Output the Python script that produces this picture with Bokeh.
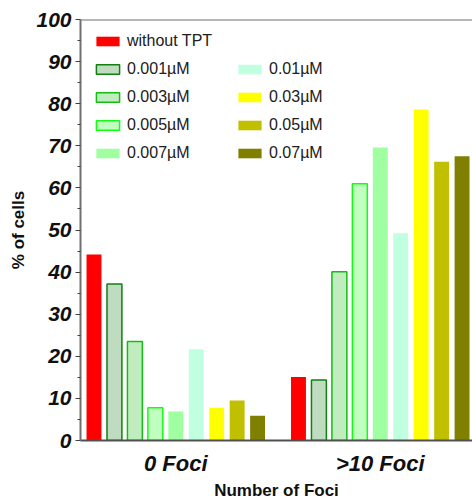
from bokeh.plotting import figure
from bokeh.models import ColumnDataSource, Legend, LegendItem, Span, FixedTicker
from bokeh.embed import file_html
from bokeh.resources import INLINE

# Treatment series (legend order) and their styles
series = ["without TPT", "0.001\u00b5M", "0.003\u00b5M", "0.005\u00b5M", "0.007\u00b5M",
          "0.01\u00b5M", "0.03\u00b5M", "0.05\u00b5M", "0.07\u00b5M"]
groups = ["0 Foci", ">10 Foci"]

# % of cells per series for each foci group
zero_foci = [44.2, 37.2, 23.5, 7.8, 6.9, 21.7, 7.8, 9.5, 5.9]
over_ten_foci = [15.1, 14.4, 40.1, 61.0, 69.6, 49.2, 78.6, 66.2, 67.5]

fill_colors = ["#FF0000", "#C0DCC0", "#C0ECC0", "#C0FFC0", "#A0FFA0",
               "#C0FFE0", "#FFFF00", "#C0C000", "#808000"]
line_colors = ["#FF0000", "#108010", "#10C010", "#10FF10", "#A0FFA0",
               "#C0FFE0", "#FFFF00", "#C0C000", "#808000"]
line_widths = [0, 1.5, 1.5, 1.5, 0, 0, 0, 0, 0]

FONT = "Liberation Sans"
n = len(series)
group_step = n + 1  # one empty slot between the two groups

p = figure(frame_width=392, frame_height=421, output_backend="svg", toolbar_location=None,
           x_range=(-0.66, 18.51), y_range=(0, 100),
           min_border_left=80, min_border_right=0, min_border_top=19, min_border_bottom=58)
p.outline_line_color = None
p.xgrid.grid_line_color = None
p.ygrid.grid_line_color = None
p.background_fill_color = "white"
p.border_fill_color = "white"

renderers = []
for i, name in enumerate(series):
    src = ColumnDataSource(dict(x=[i, i + group_step], top=[zero_foci[i], over_ten_foci[i]]))
    lw = line_widths[i]
    r = p.vbar(x="x", top="top", bottom=0, width=0.73, source=src,
               fill_color=fill_colors[i],
               line_color=line_colors[i] if lw > 0 else None,
               line_width=lw if lw > 0 else 1)
    renderers.append(r)

# Frame top line
p.add_layout(Span(location=100, dimension="width", line_color="#707070", line_width=2))

# Y axis
p.yaxis.ticker = FixedTicker(ticks=list(range(0, 101, 10)),
                             minor_ticks=list(range(5, 100, 10)))
p.yaxis.axis_line_color = "#707070"
p.yaxis.axis_line_width = 2
p.yaxis.major_tick_line_color = "#404040"
p.yaxis.minor_tick_line_color = "#404040"
p.yaxis.major_tick_out = 5
p.yaxis.major_tick_in = 0
p.yaxis.minor_tick_out = 3
p.yaxis.minor_tick_in = 0
p.yaxis.major_label_text_font = FONT
p.yaxis.major_label_text_font_style = "bold italic"
p.yaxis.major_label_text_font_size = "21px"
p.yaxis.major_label_text_color = "#101010"
p.yaxis.major_label_standoff = 4
p.yaxis.axis_label = "% of cells"
p.yaxis.axis_label_text_font = FONT
p.yaxis.axis_label_text_font_style = "bold"
p.yaxis.axis_label_text_font_size = "17px"
p.yaxis.axis_label_text_color = "#101010"
p.yaxis.axis_label_standoff = 5

# X axis: group labels centred under each group of bars
centers = [(n - 1) / 2, (n - 1) / 2 + group_step]
p.xaxis.ticker = FixedTicker(ticks=centers)
p.xaxis.major_label_overrides = {centers[0]: groups[0], centers[1]: groups[1]}
p.xaxis.axis_line_color = "#505050"
p.xaxis.axis_line_width = 2
p.xaxis.major_tick_line_color = None
p.xaxis.minor_tick_line_color = None
p.xaxis.major_label_text_font = FONT
p.xaxis.major_label_text_font_style = "bold italic"
p.xaxis.major_label_text_font_size = "22px"
p.xaxis.major_label_text_color = "#101010"
p.xaxis.major_label_standoff = 4
p.xaxis.axis_label = "Number of Foci"
p.xaxis.axis_label_text_font = FONT
p.xaxis.axis_label_text_font_style = "bold"
p.xaxis.axis_label_text_font_size = "17px"
p.xaxis.axis_label_text_color = "#101010"
p.xaxis.axis_label_standoff = 2


def make_legend(idx, loc):
    leg = Legend(items=[LegendItem(label=series[i], renderers=[renderers[i]]) for i in idx],
                 location=loc, orientation="vertical",
                 glyph_width=29, glyph_height=12, label_height=12,
                 spacing=10, padding=0, margin=0, label_standoff=5,
                 label_text_font=FONT, label_text_font_size="16px",
                 label_text_color="#202020",
                 border_line_color=None, background_fill_alpha=0)
    p.add_layout(leg, "center")


make_legend(range(0, 5), (13, 278))
make_legend(range(5, 9), (155, 278))

open("out.html", "w").write(file_html(p, INLINE))
